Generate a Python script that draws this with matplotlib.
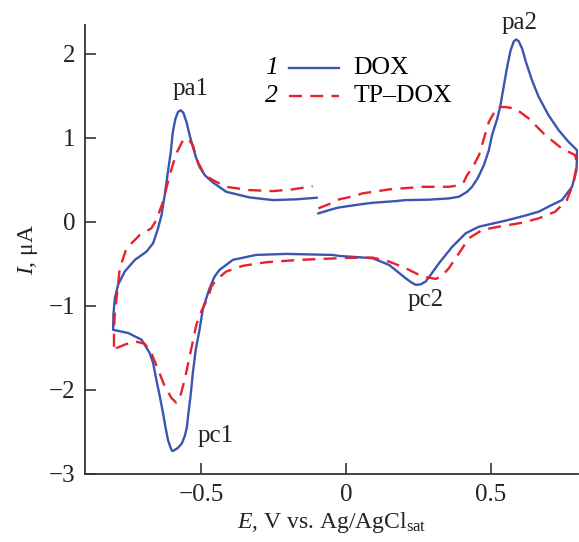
import numpy as np
import matplotlib
matplotlib.use('Agg')
import matplotlib.pyplot as plt

plt.rcParams['font.family'] = ['Liberation Serif', 'DejaVu Serif']
plt.rcParams['mathtext.fontset'] = 'custom'
plt.rcParams['mathtext.rm'] = 'Liberation Serif'
plt.rcParams['mathtext.it'] = 'Liberation Serif:italic'

# curve 1, DOX (scan order, starting at -0.1 V going positive)
dox_E = [-0.095, -0.046, -0.023, 0.057, 0.092, 0.172, 0.206, 0.287, 0.355, 0.390,
         0.418, 0.435, 0.455, 0.476, 0.493, 0.504, 0.522, 0.533, 0.545, 0.556,
         0.568, 0.579, 0.587, 0.596, 0.608, 0.621, 0.642, 0.665, 0.699, 0.734,
         0.768, 0.797,
         0.797, 0.795, 0.780, 0.745, 0.705, 0.665, 0.610, 0.550, 0.459, 0.413,
         0.367, 0.321, 0.295, 0.275, 0.258, 0.241, 0.225, 0.206, 0.149, 0.092,
         0.046, -0.023, -0.046, -0.206, -0.310, -0.390, -0.436, -0.453, -0.470,
         -0.493, -0.505, -0.518, -0.528, -0.536, -0.543, -0.549, -0.556, -0.566,
         -0.579, -0.591, -0.599, -0.605, -0.614, -0.622, -0.631, -0.642, -0.654,
         -0.665, -0.677, -0.705, -0.751, -0.803,
         -0.802, -0.797, -0.786, -0.763, -0.728, -0.688, -0.665, -0.648, -0.636,
         -0.625, -0.614, -0.604, -0.597, -0.588, -0.579, -0.570, -0.561, -0.550,
         -0.539, -0.528, -0.516, -0.505, -0.487, -0.459, -0.413, -0.333, -0.252,
         -0.172, -0.101]
dox_I = [0.099, 0.150, 0.170, 0.210, 0.225, 0.245, 0.257, 0.262, 0.277, 0.297,
         0.356, 0.415, 0.520, 0.673, 0.850, 1.028, 1.226, 1.384, 1.622, 1.839,
         2.037, 2.144, 2.167, 2.147, 2.057, 1.898, 1.681, 1.483, 1.266, 1.088,
         0.949, 0.851,
         0.750, 0.610, 0.415, 0.257, 0.190, 0.119, 0.065, 0.012, -0.059, -0.138,
         -0.297, -0.494, -0.620, -0.712, -0.745, -0.751, -0.720, -0.672, -0.514, -0.434,
         -0.423, -0.407, -0.395, -0.383, -0.395, -0.454, -0.573, -0.652, -0.790,
         -1.028, -1.285, -1.522, -1.798, -2.076, -2.273, -2.451, -2.550, -2.637,
         -2.688, -2.716, -2.728, -2.688, -2.590, -2.451, -2.273, -2.076, -1.878,
         -1.680, -1.561, -1.403, -1.324, -1.285,
         -1.107, -0.909, -0.751, -0.593, -0.454, -0.356, -0.256, -0.078, 0.079,
         0.317, 0.593, 0.830, 1.068, 1.226, 1.305, 1.325, 1.298, 1.186,
         1.028, 0.890, 0.752, 0.652, 0.554, 0.467, 0.356, 0.289, 0.257,
         0.266, 0.285]

# curve 2, TP-DOX
tp_E = [-0.095, -0.050, -0.023, 0.023, 0.057, 0.149, 0.264, 0.355, 0.385, 0.407,
        0.418, 0.435, 0.459, 0.493, 0.522, 0.550, 0.585, 0.631, 0.688, 0.745, 0.791,
        0.797, 0.785, 0.762, 0.722, 0.665, 0.608, 0.527, 0.470, 0.424, 0.390,
        0.355, 0.330, 0.310, 0.264, 0.206, 0.149, 0.092, 0.046, -0.023, -0.161,
        -0.275, -0.356, -0.413, -0.447, -0.464, -0.476, -0.499, -0.516, -0.528,
        -0.539, -0.556, -0.573, -0.585, -0.602, -0.625, -0.648, -0.671, -0.694,
        -0.728, -0.763, -0.791, -0.800,
        -0.800, -0.797, -0.791, -0.780, -0.757, -0.711, -0.671, -0.654, -0.631,
        -0.608, -0.585, -0.562, -0.545, -0.528, -0.511, -0.487, -0.459, -0.413,
        -0.333, -0.252, -0.184, -0.115]
tp_I = [0.159, 0.220, 0.266, 0.300, 0.337, 0.384, 0.415, 0.415, 0.430, 0.474,
        0.554, 0.633, 0.791, 1.186, 1.364, 1.364, 1.345, 1.226, 1.028, 0.871, 0.791,
        0.692, 0.455, 0.257, 0.119, 0.040, -0.012, -0.059, -0.098, -0.197, -0.375,
        -0.553, -0.650, -0.680, -0.652, -0.553, -0.474, -0.427, -0.427, -0.434, -0.454,
        -0.482, -0.525, -0.593, -0.692, -0.771, -0.909, -1.068, -1.225, -1.423,
        -1.601, -1.878, -2.095, -2.154, -2.095, -1.957, -1.759, -1.561, -1.451,
        -1.423, -1.462, -1.502, -1.542,
        -1.280, -1.087, -0.909, -0.553, -0.316, -0.158, -0.078, 0.020, 0.237,
        0.554, 0.811, 0.969, 0.989, 0.910, 0.712, 0.554, 0.495, 0.415,
        0.376, 0.364, 0.384, 0.423]

peak_labels = ['pa1', 'pc1', 'pc2', 'pa2']
peak_pos = [(-0.535, 1.58), (-0.45, -2.55), (0.275, -0.93), (0.60, 2.36)]

blue = '#3a55b2'
red = '#e8212b'

fig = plt.figure(figsize=(5.79, 5.42), dpi=100)
ax = fig.add_axes([0.1468, 0.1255, 0.8512, 0.8285])

ax.plot(dox_E, dox_I, color=blue, lw=1.7, solid_joinstyle='round')
ax.plot(tp_E, tp_I, color=red, lw=1.7, dashes=(5.5, 3.5))

for lab, (x, y) in zip(peak_labels, peak_pos):
    ax.text(x, y, lab, fontsize=18, ha='center', va='center', color='#222222')

# legend drawn by hand: italic number, line sample, name
ax.text(0.379, 0.904, '1', style='italic', fontsize=18.5, ha='center', va='center', transform=ax.transAxes)
ax.plot([0.414, 0.515], [0.904, 0.904], color=blue, lw=1.7, transform=ax.transAxes)
ax.text(0.544, 0.904, 'DOX', fontsize=18.5, ha='left', va='center', transform=ax.transAxes)
ax.text(0.379, 0.842, '2', style='italic', fontsize=18.5, ha='center', va='center', transform=ax.transAxes)
ax.plot([0.414, 0.515], [0.842, 0.842], color=red, lw=1.7, dashes=(5.5, 3.5), transform=ax.transAxes)
ax.text(0.544, 0.842, 'TP\u2013DOX', fontsize=18.5, ha='left', va='center', transform=ax.transAxes)

ax.set_xlim(-0.9, 0.8)
ax.set_ylim(-3, 2.34)
ax.set_xticks([-0.5, 0, 0.5])
ax.set_xticklabels(['\u22120.5', '0', '0.5'])
ax.set_yticks([-3, -2, -1, 0, 1, 2])
ax.set_yticklabels(['\u22123', '\u22122', '\u22121', '0', '1', '2'])
ax.tick_params(direction='in', length=8, width=1.2, labelsize=18, colors='#333333',
               labelcolor='#222222', pad=7)
for s in ['top', 'right']:
    ax.spines[s].set_visible(False)
for s in ['left', 'bottom']:
    ax.spines[s].set_linewidth(1.3)
    ax.spines[s].set_color('#333333')

ax.set_xlabel(r'$\it{E}$, V vs. Ag/AgCl$_{\rm sat}$', fontsize=17, labelpad=3, color='#222222')
ax.set_ylabel(r'$\it{I}$, μA', fontsize=17, labelpad=6, color='#222222')

fig.savefig('out.png', dpi=100)
